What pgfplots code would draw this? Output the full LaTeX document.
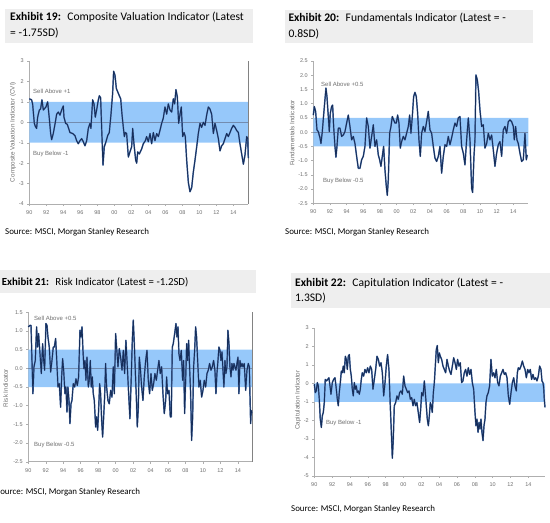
\documentclass[border=0pt]{standalone}
\usepackage{fontspec}
\setmainfont{Carlito}[Ligatures=NoCommon]
\newfontfamily\tickfont{Liberation Sans}
\usepackage{pgfplots}
\usepackage{pgfplotstable}
\pgfplotsset{compat=1.18}
\definecolor{band}{RGB}{150,200,250}
\definecolor{navy}{RGB}{22,46,90}
\definecolor{navyedge}{RGB}{85,120,175}
\definecolor{titlebg}{RGB}{238,238,238}
\definecolor{axgray}{RGB}{175,175,175}
\definecolor{zerogray}{RGB}{115,140,175}
\definecolor{labgray}{RGB}{110,110,110}
\definecolor{edge}{RGB}{130,130,130}

\pgfplotstableread{
x y
1990.00 1.15
1990.27 1.10
1990.39 0.90
1990.59 -0.05
1990.71 -0.20
1990.86 -0.30
1990.98 0.25
1991.18 0.60
1991.33 0.65
1991.49 1.10
1991.65 0.60
1991.96 0.75
1992.16 1.00
1992.35 0.20
1992.51 -0.55
1992.63 -0.85
1992.82 -0.55
1993.06 0.00
1993.22 0.40
1993.41 0.50
1993.61 0.35
1993.80 0.60
1994.00 0.80
1994.08 0.25
1994.27 -0.05
1994.47 -0.10
1994.59 -0.25
1994.78 -0.50
1995.10 -0.55
1995.37 -0.65
1995.57 -0.90
1995.76 -1.05
1995.96 -0.90
1996.16 -0.80
1996.35 -0.95
1996.55 -1.15
1996.75 -0.90
1996.94 -0.30
1997.14 -0.05
1997.25 -0.30
1997.45 1.10
1997.61 0.90
1997.76 0.25
1997.92 0.60
1998.12 1.10
1998.24 1.30
1998.39 1.20
1998.51 -0.25
1998.67 -2.10
1998.82 -1.20
1999.02 -0.95
1999.22 -0.65
1999.41 -0.50
1999.61 0.40
1999.80 1.40
1999.92 2.50
2000.08 2.30
2000.24 1.65
2000.39 1.50
2000.59 1.30
2000.75 1.15
2000.90 0.40
2001.06 -0.25
2001.18 -0.70
2001.29 -0.50
2001.45 -0.55
2001.65 -1.70
2001.84 -1.45
2002.04 -1.20
2002.16 -0.30
2002.31 -1.05
2002.51 -1.85
2002.63 -2.00
2002.75 -1.45
2002.94 -1.55
2003.22 -1.30
2003.41 -1.05
2003.65 -0.90
2003.80 -0.70
2004.00 -0.95
2004.20 -0.55
2004.39 -1.05
2004.59 -0.50
2004.78 -0.90
2004.98 -0.55
2005.18 -0.70
2005.37 -0.40
2005.57 -0.05
2005.76 0.20
2005.96 0.75
2006.16 0.40
2006.35 0.90
2006.55 0.60
2006.75 0.50
2006.94 1.15
2007.10 0.90
2007.25 1.60
2007.41 1.25
2007.57 -0.05
2007.73 0.40
2007.88 0.75
2008.04 -0.70
2008.20 -0.50
2008.35 -0.70
2008.51 -1.85
2008.71 -2.95
2008.90 -3.40
2009.10 -3.20
2009.29 -2.45
2009.49 -1.85
2009.69 -1.20
2009.88 -0.55
2010.08 -0.05
2010.27 -0.25
2010.47 0.00
2010.67 -0.15
2010.86 0.35
2011.06 0.75
2011.25 0.65
2011.45 0.40
2011.65 -0.55
2011.84 -0.05
2012.04 -0.40
2012.24 -0.80
2012.43 -1.40
2012.63 -1.15
2012.82 -1.05
2013.02 -0.80
2013.22 -0.55
2013.41 -0.70
2013.61 -0.50
2013.80 -0.30
2014.00 -0.15
2014.20 -0.25
2014.39 -0.40
2014.59 -0.50
2014.78 -1.05
2014.98 -1.55
2015.18 -2.05
2015.37 -1.60
2015.57 -0.70
2015.69 -0.80
2015.76 -1.75
}\dataA

\pgfplotstableread{
x y
1990.00 0.60
1990.12 0.90
1990.28 0.73
1990.44 0.08
1990.60 0.02
1990.80 -0.20
1990.92 -0.40
1991.08 0.02
1991.24 0.60
1991.40 1.15
1991.52 1.55
1991.64 1.25
1991.80 0.55
1991.92 0.02
1992.04 0.67
1992.20 0.90
1992.32 0.95
1992.44 0.20
1992.60 -0.50
1992.72 -0.88
1992.84 -0.50
1993.00 0.14
1993.20 0.14
1993.40 -0.15
1993.60 -0.10
1993.80 0.02
1994.00 0.32
1994.20 0.60
1994.40 0.20
1994.60 -0.27
1994.80 -0.15
1995.00 -0.40
1995.20 -0.85
1995.40 -1.27
1995.60 -1.27
1995.80 -0.97
1996.00 -0.85
1996.20 -0.50
1996.40 0.50
1996.60 0.20
1996.80 -0.56
1997.00 -0.15
1997.20 0.26
1997.40 -0.50
1997.60 -0.27
1997.80 -0.80
1997.96 -0.97
1998.12 -1.20
1998.28 -0.85
1998.44 -0.50
1998.60 -1.32
1998.76 -1.90
1998.88 -2.22
1999.00 -1.67
1999.16 -0.04
1999.32 0.20
1999.48 0.55
1999.64 0.43
1999.80 0.32
1999.96 0.32
2000.12 0.60
2000.28 0.32
2000.44 -0.56
2000.60 -0.33
2000.80 -0.15
2001.00 -0.27
2001.20 -0.04
2001.40 0.20
2001.56 0.60
2001.72 -0.04
2001.88 0.55
2002.04 1.25
2002.20 1.40
2002.36 1.25
2002.52 0.67
2002.68 -0.27
2002.84 -0.85
2003.00 -0.04
2003.20 0.20
2003.40 0.02
2003.60 0.37
2003.80 0.73
2004.00 0.08
2004.20 -0.04
2004.40 -0.50
2004.60 -0.91
2004.80 -1.03
2005.00 -0.85
2005.20 -0.50
2005.40 -1.44
2005.60 -0.85
2005.80 -0.44
2006.00 -0.50
2006.20 -0.15
2006.40 -0.44
2006.60 -0.20
2006.80 0.08
2007.00 0.32
2007.20 0.20
2007.40 0.50
2007.60 0.55
2007.80 -0.50
2008.00 -0.74
2008.20 -1.15
2008.40 -0.27
2008.60 0.50
2008.80 -0.27
2009.00 -1.97
2009.12 -2.12
2009.28 -0.85
2009.40 -0.27
2009.52 2.01
2009.68 1.84
2009.84 1.43
2010.00 0.78
2010.20 0.20
2010.40 0.26
2010.60 -0.56
2010.80 -0.40
2011.00 -0.04
2011.20 -0.27
2011.40 -0.10
2011.60 -0.62
2011.80 -1.20
2012.00 -0.74
2012.20 -0.44
2012.40 -0.33
2012.60 -0.85
2012.80 0.08
2013.00 0.20
2013.20 -0.04
2013.40 0.37
2013.60 0.43
2013.80 0.37
2014.00 0.20
2014.12 -0.27
2014.28 0.20
2014.44 -0.27
2014.60 -0.40
2014.80 -0.74
2015.00 -1.03
2015.20 -0.97
2015.40 -0.04
2015.56 -0.97
2015.68 -0.80
}\dataB

\pgfplotstableread{
x y
1990.00 1.11
1990.19 1.15
1990.31 1.15
1990.42 0.21
1990.53 -0.68
1990.65 0.04
1990.80 0.21
1990.95 1.11
1991.07 0.57
1991.18 0.93
1991.34 0.39
1991.49 -0.14
1991.64 0.66
1991.76 0.21
1991.87 -0.05
1992.02 1.20
1992.14 1.15
1992.25 0.84
1992.40 0.57
1992.56 -0.10
1992.71 0.21
1992.86 0.57
1992.98 0.57
1993.13 0.80
1993.24 0.30
1993.40 -0.50
1993.55 -0.41
1993.70 -1.04
1993.82 -0.23
1993.93 0.26
1994.05 -0.05
1994.20 -0.68
1994.31 -0.50
1994.43 -1.17
1994.54 -0.50
1994.66 -0.86
1994.77 -1.48
1994.89 -0.95
1995.00 -0.86
1995.15 -0.41
1995.31 -0.50
1995.46 -0.28
1995.61 -0.46
1995.76 -0.23
1995.92 1.02
1996.03 0.84
1996.15 1.11
1996.26 0.48
1996.37 -0.01
1996.49 0.21
1996.60 -0.32
1996.72 0.30
1996.87 -0.50
1996.98 -0.32
1997.10 0.21
1997.21 -0.50
1997.33 -0.23
1997.44 -0.68
1997.56 -0.86
1997.71 -1.57
1997.82 -1.30
1997.94 -1.66
1998.05 -1.13
1998.17 -0.41
1998.28 -0.68
1998.40 -1.39
1998.51 -1.84
1998.63 -1.30
1998.74 -0.77
1998.85 0.13
1998.97 -0.50
1999.12 -0.86
1999.27 -0.95
1999.43 -0.59
1999.58 -0.77
1999.73 0.04
1999.85 -0.68
2000.00 0.93
2000.11 0.57
2000.27 0.04
2000.42 0.53
2000.57 0.30
2000.73 -0.05
2000.88 0.48
2001.03 -0.14
2001.18 0.75
2001.34 0.04
2001.49 -0.68
2001.64 -1.35
2001.79 -0.23
2001.91 0.75
2002.02 1.29
2002.14 0.66
2002.25 -0.05
2002.37 -0.77
2002.48 -1.57
2002.60 -1.04
2002.71 0.30
2002.82 0.04
2002.98 -0.50
2003.13 -0.86
2003.28 -0.23
2003.44 0.21
2003.59 0.48
2003.74 -0.32
2003.89 -0.68
2004.05 -0.14
2004.20 -0.59
2004.35 -0.41
2004.50 -0.14
2004.66 -0.32
2004.81 -0.05
2004.96 0.21
2005.11 -0.14
2005.27 0.04
2005.42 -0.68
2005.57 -1.21
2005.73 -0.86
2005.84 -0.23
2005.95 -0.68
2006.11 -0.59
2006.26 -1.30
2006.37 -1.30
2006.49 0.57
2006.60 0.66
2006.76 0.93
2006.91 1.20
2007.02 0.84
2007.14 1.11
2007.25 0.39
2007.37 0.21
2007.52 0.48
2007.67 -0.32
2007.79 0.21
2007.90 -1.21
2008.02 -0.32
2008.13 0.66
2008.24 0.21
2008.36 0.75
2008.47 0.04
2008.59 -0.68
2008.70 -1.93
2008.82 -1.30
2008.93 0.04
2009.05 0.48
2009.16 1.11
2009.27 0.84
2009.39 0.21
2009.54 -0.50
2009.69 -0.32
2009.85 -0.77
2010.00 -0.59
2010.15 -0.32
2010.31 -0.50
2010.46 -0.14
2010.61 -0.05
2010.76 0.13
2010.92 -0.05
2011.07 0.04
2011.22 0.21
2011.37 -0.05
2011.49 -0.68
2011.60 -0.14
2011.72 0.21
2011.83 0.57
2011.95 0.48
2012.06 0.21
2012.18 0.44
2012.29 -0.05
2012.40 -0.50
2012.52 0.21
2012.63 -0.14
2012.75 0.04
2012.86 1.02
2012.98 0.66
2013.09 0.04
2013.21 -0.23
2013.32 0.13
2013.44 -0.05
2013.55 0.13
2013.66 0.04
2013.78 -0.05
2013.89 0.13
2014.01 0.30
2014.12 -0.68
2014.24 0.21
2014.35 0.04
2014.47 0.13
2014.58 0.04
2014.73 0.13
2014.89 -0.59
2015.04 -0.05
2015.19 0.13
2015.31 0.04
2015.38 -0.68
2015.46 -1.48
2015.53 -1.13
2015.61 -1.20
}\dataC

\pgfplotstableread{
x y
1990.00 -0.05
1990.11 -0.50
1990.22 -0.41
1990.34 0.04
1990.45 -0.14
1990.56 -0.86
1990.67 -1.93
1990.79 -2.38
1990.90 -1.75
1991.01 -1.57
1991.12 -1.04
1991.23 0.21
1991.38 0.13
1991.50 0.21
1991.64 0.30
1991.76 -0.14
1991.87 -0.59
1992.02 0.04
1992.17 0.21
1992.32 0.30
1992.43 -0.14
1992.58 -0.86
1992.69 -1.21
1992.80 -0.50
1992.92 0.04
1993.03 0.66
1993.14 0.57
1993.25 0.93
1993.36 0.57
1993.48 1.46
1993.59 1.29
1993.70 0.75
1993.81 1.46
1993.93 1.55
1994.04 0.75
1994.15 0.39
1994.26 -0.32
1994.37 -0.68
1994.49 0.04
1994.60 -0.32
1994.71 -0.14
1994.82 -0.50
1994.93 -0.41
1995.05 -0.59
1995.16 -0.32
1995.27 0.21
1995.38 0.57
1995.53 0.39
1995.68 0.75
1995.83 0.57
1995.98 0.84
1996.13 0.57
1996.28 0.93
1996.43 0.75
1996.58 -0.32
1996.73 0.21
1996.88 0.75
1997.03 1.46
1997.18 1.29
1997.33 0.93
1997.48 1.11
1997.63 0.57
1997.78 -0.68
1997.93 0.04
1998.07 0.93
1998.22 1.55
1998.37 0.75
1998.52 -1.21
1998.64 -2.64
1998.75 -4.04
1998.86 -3.00
1998.97 -1.21
1999.12 -1.04
1999.27 -0.68
1999.42 -0.86
1999.57 -0.50
1999.72 -0.41
1999.87 -0.59
2000.02 0.39
2000.17 -0.14
2000.32 -0.32
2000.47 -0.50
2000.62 -0.41
2000.77 -0.86
2000.92 -0.77
2001.07 -1.21
2001.21 -0.86
2001.36 -1.21
2001.51 -1.04
2001.66 -1.57
2001.81 -2.11
2001.93 -1.39
2002.04 -0.50
2002.19 -0.68
2002.34 0.13
2002.45 -0.50
2002.56 -1.21
2002.67 -1.93
2002.79 -2.29
2002.90 -1.75
2003.01 -1.04
2003.12 -1.21
2003.23 -1.57
2003.35 -0.50
2003.46 0.04
2003.57 0.93
2003.68 1.82
2003.79 2.04
2003.91 1.11
2004.02 1.64
2004.13 1.46
2004.28 1.29
2004.43 0.93
2004.58 0.75
2004.73 0.57
2004.88 1.29
2005.03 0.93
2005.18 0.66
2005.33 0.48
2005.48 0.93
2005.63 1.38
2005.78 1.11
2005.93 0.75
2006.07 1.29
2006.22 0.93
2006.37 1.11
2006.52 0.04
2006.67 0.13
2006.82 0.57
2006.97 0.75
2007.12 0.39
2007.27 0.84
2007.42 0.48
2007.57 0.75
2007.72 0.04
2007.87 -0.32
2008.02 -1.57
2008.13 -2.29
2008.24 -1.93
2008.36 -2.64
2008.47 -2.11
2008.58 -2.46
2008.69 -1.93
2008.80 -2.64
2008.92 -3.09
2009.03 -2.29
2009.14 -1.93
2009.25 -1.04
2009.36 -0.68
2009.51 -0.50
2009.66 -0.14
2009.81 1.29
2009.96 0.39
2010.11 0.57
2010.26 0.30
2010.41 0.75
2010.56 0.04
2010.71 -0.14
2010.86 0.39
2011.01 0.57
2011.16 0.75
2011.31 0.48
2011.46 0.57
2011.61 0.30
2011.76 -0.68
2011.91 -1.13
2012.06 -0.50
2012.21 0.04
2012.36 0.30
2012.50 -0.14
2012.65 -0.41
2012.77 0.57
2012.88 0.84
2013.03 0.75
2013.18 0.93
2013.33 1.20
2013.48 0.93
2013.63 0.75
2013.78 0.30
2013.93 0.75
2014.07 0.57
2014.22 0.75
2014.37 0.21
2014.52 0.48
2014.67 0.21
2014.82 0.30
2014.97 0.13
2015.12 0.39
2015.27 0.93
2015.42 0.75
2015.53 0.13
2015.64 0.04
2015.72 -0.23
2015.79 -0.86
2015.87 -1.30
}\dataD

\pgfplotsset{
  panel/.style={
    scale only axis, clip=false,
    axis x line*=bottom, axis y line*=left,
    axis line style={draw=axgray, line width=0.5pt},
    tick style={draw=axgray, line width=0.4pt},
    major tick length=2pt,
    tick align=outside,
    xmin=1990,
    xtick={1990,1992,...,2014},
    xticklabels={90,92,94,96,98,00,02,04,06,08,10,12,14},
    tick label style={font=\tickfont\fontsize{5.5}{6}\selectfont, text=labgray},
    xticklabel style={yshift=-1pt},
    /pgf/number format/assume math mode=true,
    anchor=south west,
  },
  dec1/.style={yticklabel style={/pgf/number format/.cd, fixed, fixed zerofill, precision=1}},
  series/.style={draw=navy, line width=0.9pt, line join=round,
    preaction={draw=navyedge, line width=1.5pt, line join=round}},
}
\newcommand{\notefont}{\tickfont\fontsize{6}{7}\selectfont}
\newcommand{\ylabfont}{\tickfont\fontsize{6.3}{7}\selectfont}

\begin{document}
\begin{tikzpicture}
\useasboundingbox (0,0) rectangle (550pt,-523pt);

% title boxes
\fill[titlebg] (5pt,-9pt) rectangle (253pt,-43pt);
\fill[titlebg] (285pt,-10pt) rectangle (532.7pt,-43pt);
\fill[titlebg] (0pt,-270pt) rectangle (256pt,-292.7pt);
\fill[titlebg] (291pt,-273.3pt) rectangle (550pt,-308.3pt);

\begin{scope}[every node/.style={inner sep=0pt, anchor=base west, font=\fontsize{11.6}{13}\selectfont}]
\node at (10pt,-20.7pt) {\textbf{Exhibit 19:}\hspace{3pt} Composite Valuation Indicator (Latest};
\node at (10pt,-36.7pt) {= -1.75SD)};
\node at (288.3pt,-21.7pt) {\textbf{Exhibit 20:}\hspace{3pt} Fundamentals Indicator (Latest = -};
\node at (288.3pt,-37.7pt) {0.8SD)};
\node[font=\fontsize{10.8}{13}\selectfont] at (1.7pt,-285.7pt) {\textbf{Exhibit 21:}\hspace{3pt} Risk Indicator (Latest = -1.2SD)};
\node at (295pt,-286pt) {\textbf{Exhibit 22:}\hspace{3pt} Capitulation Indicator (Latest = -};
\node at (295pt,-301.5pt) {1.3SD)};
\end{scope}

\begin{scope}[every node/.style={inner sep=0pt, anchor=base west, font=\fontsize{8.9}{10}\selectfont}]
\node at (5pt,-234.3pt) {Source: MSCI, Morgan Stanley Research};
\node at (285pt,-234.3pt) {Source: MSCI, Morgan Stanley Research};
\node at (-4pt,-494.3pt) {Source: MSCI, Morgan Stanley Research};
\node at (291pt,-511pt) {Source: MSCI, Morgan Stanley Research};
\end{scope}

% y axis titles
\begin{scope}[every node/.style={inner sep=0pt, anchor=center, rotate=90, font=\ylabfont, text=labgray}]
\node at (13pt,-132pt) {Composite Valuation Indicator (CVI)};
\node at (292pt,-133pt) {Fundamentals Indicator};
\node at (5.5pt,-388pt) {Risk Indicator};
\node at (298pt,-400pt) {Capitulation Indicator};
\end{scope}

% Panel 1
\begin{axis}[panel, at={(29.3pt,-204pt)}, width=219pt, height=143pt,
  xmax=2015.76, ymin=-4, ymax=3, ytick={-4,-3,...,3}]
\addplot[draw=none, fill=band] coordinates {(1990,-1) (2015.76,-1) (2015.76,1) (1990,1) (1990,-1)};
\addplot[draw=zerogray, line width=0.4pt] coordinates {(1990,0) (2015.76,0)};
\addplot[draw=edge, line width=0.8pt] coordinates {(2015.76,-4) (2015.76,3)};
\addplot[series] table {\dataA};
\node[anchor=west, font=\notefont, text=labgray, inner sep=0pt] at (axis cs:1990.44,1.53) {Sell Above +1};
\node[anchor=west, font=\notefont, text=labgray, inner sep=0pt] at (axis cs:1990.44,-1.55) {Buy Below -1};
\end{axis}

% Panel 2
\begin{axis}[panel, dec1, at={(313.3pt,-203.3pt)}, width=215pt, height=142.3pt,
  xmax=2015.8, ymin=-2.5, ymax=2.5, ytick={-2.5,-2,...,2.5}]
\addplot[draw=none, fill=band] coordinates {(1990,-0.5) (2015.8,-0.5) (2015.8,0.5) (1990,0.5) (1990,-0.5)};
\addplot[draw=zerogray, line width=0.4pt] coordinates {(1990,0) (2015.8,0)};
\addplot[series] table {\dataB};
\node[anchor=west, font=\notefont, text=labgray, inner sep=0pt] at (axis cs:1990.92,1.69) {Sell Above +0.5};
\node[anchor=west, font=\notefont, text=labgray, inner sep=0pt] at (axis cs:1991.16,-1.72) {Buy Below -0.5};
\end{axis}

% Panel 3
\begin{axis}[panel, dec1, at={(28.3pt,-461.7pt)}, width=224pt, height=149.4pt,
  xmax=2015.65, ymin=-2.5, ymax=1.5, ytick={-2.5,-2,...,1.5}]
\addplot[draw=none, fill=band] coordinates {(1990,-0.5) (2015.65,-0.5) (2015.65,0.5) (1990,0.5) (1990,-0.5)};
\addplot[draw=zerogray, line width=0.4pt] coordinates {(1990,0) (2015.65,0)};
\addplot[draw=edge, line width=0.8pt] coordinates {(2015.65,-2.5) (2015.65,1.5)};
\addplot[series] table {\dataC};
\node[anchor=west, font=\notefont, text=labgray, inner sep=0pt] at (axis cs:1990.65,1.35) {Sell Above +0.5};
\node[anchor=west, font=\notefont, text=labgray, inner sep=0pt] at (axis cs:1990.65,-2.05) {Buy Below -0.5};
\end{axis}

% Panel 4
\begin{axis}[panel, at={(314.3pt,-476pt)}, width=230.7pt, height=148.3pt,
  xmax=2015.87, ymin=-5, ymax=3, ytick={-5,-4,...,3}]
\addplot[draw=none, fill=band] coordinates {(1990,-1) (2015.87,-1) (2015.87,0) (1990,0) (1990,-1)};
\addplot[series] table {\dataD};
\node[anchor=west, font=\notefont, text=labgray, inner sep=0pt] at (axis cs:1991.3,-2.14) {Buy Below -1};
\end{axis}
\end{tikzpicture}
\end{document}
